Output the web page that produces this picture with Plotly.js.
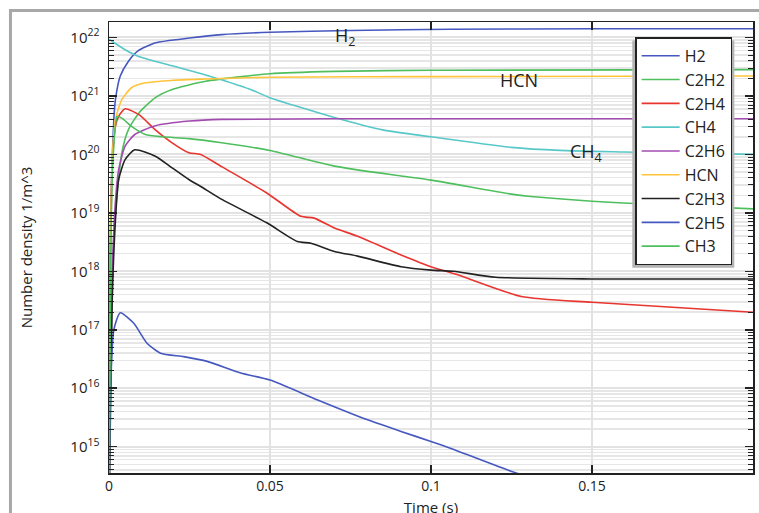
<!DOCTYPE html>
<html>
<head>
<meta charset="utf-8">
<script src="https://cdn.plot.ly/plotly-3.0.1.min.js"></script>
<style>
html,body{margin:0;padding:0;overflow:hidden;background:#fff;}
#chart{width:759px;height:530px;}
</style>
</head>
<body>
<div id="chart"></div>
<script>
// ---- data (time in s, number density in 1/m^3) ----
const tH2   = [0, 0.0004, 0.0008, 0.0015, 0.002, 0.0035, 0.006, 0.009, 0.0145, 0.025, 0.035, 0.05, 0.075, 0.106, 0.15, 0.2];
const H2    = [1e14, 3.16e18, 3.98e19, 3.98e20, 8.71e20, 2.19e21, 3.89e21, 5.89e21, 8.13e21, 9.77e21, 1.12e22, 1.23e22, 1.32e22, 1.38e22, 1.41e22, 1.41e22];

const tC2H2 = [0, 0.0008, 0.002, 0.004, 0.006, 0.0093, 0.0144, 0.0196, 0.03, 0.05, 0.07, 0.1, 0.2];
const C2H2  = [1e14, 3.16e17, 1e19, 1.07e20, 2.63e20, 5.13e20, 9.33e20, 1.29e21, 1.78e21, 2.40e21, 2.63e21, 2.75e21, 2.82e21];

const tC2H4 = [0, 0.0005, 0.001, 0.002, 0.003, 0.005, 0.0093, 0.0144, 0.0196, 0.0248, 0.0285, 0.035, 0.049, 0.0596, 0.0637, 0.07, 0.0772, 0.0907, 0.1, 0.1083, 0.128, 0.15, 0.2];
const C2H4  = [1e14, 2.0e18, 6.31e19, 3.02e20, 4.47e20, 6.03e20, 4.79e20, 2.63e20, 1.58e20, 1.07e20, 1.0e20, 6.17e19, 2.19e19, 8.71e18, 8.13e18, 5.50e18, 3.98e18, 1.91e18, 1.20e18, 8.71e17, 3.72e17, 2.95e17, 2.0e17];

const tCH4  = [0, 0.005, 0.009, 0.02, 0.03, 0.044, 0.05, 0.07, 0.085, 0.1, 0.125, 0.14, 0.16, 0.2];
const CH4   = [9.33e21, 6.17e21, 4.79e21, 3.24e21, 2.29e21, 1.29e21, 9.33e20, 4.27e20, 2.63e20, 2.0e20, 1.32e20, 1.17e20, 1.10e20, 1.0e20];

const tC2H6 = [0, 0.0004, 0.001, 0.002, 0.003, 0.005, 0.008, 0.0144, 0.025, 0.035, 0.1, 0.2];
const C2H6  = [1e14, 5.01e16, 1e18, 1.58e19, 5.50e19, 1.38e20, 2.19e20, 3.09e20, 3.72e20, 3.98e20, 4.07e20, 4.07e20];

const tHCN  = [0, 0.0005, 0.001, 0.002, 0.004, 0.007, 0.011, 0.02, 0.03, 0.05, 0.1, 0.2];
const HCN   = [1e14, 3.16e18, 7.94e19, 3.98e20, 8.71e20, 1.38e21, 1.66e21, 1.86e21, 1.95e21, 2.09e21, 2.14e21, 2.19e21];

const tC2H3 = [0, 0.001, 0.002, 0.003, 0.005, 0.008, 0.0144, 0.0196, 0.0248, 0.0285, 0.035, 0.049, 0.0585, 0.0627, 0.07, 0.0772, 0.0907, 0.1, 0.107, 0.12, 0.15, 0.2];
const C2H3  = [1e14, 3.16e17, 7.59e18, 3.72e19, 8.13e19, 1.20e20, 9.33e19, 5.89e19, 3.72e19, 2.82e19, 1.70e19, 6.76e18, 3.24e18, 3.02e18, 2.19e18, 1.82e18, 1.20e18, 1.05e18, 1.0e18, 7.94e17, 7.41e17, 7.41e17];

const tC2H5 = [0, 0.0005, 0.0015, 0.0035, 0.0077, 0.0118, 0.016, 0.0232, 0.0305, 0.0409, 0.05, 0.0648, 0.0803, 0.0907, 0.1, 0.1062, 0.126, 0.15, 0.2];
const C2H5  = [1e14, 1e16, 1e17, 1.95e17, 1.29e17, 5.89e16, 3.98e16, 3.47e16, 2.88e16, 1.82e16, 1.38e16, 6.31e15, 2.88e15, 1.82e15, 1.23e15, 9.33e14, 3.63e14, 1.58e14, 3.98e13];

const tCH3  = [0, 0.0005, 0.001, 0.002, 0.0025, 0.004, 0.007, 0.0113, 0.0165, 0.0248, 0.035, 0.05, 0.07, 0.0907, 0.1, 0.125, 0.131, 0.15, 0.163, 0.2];
const CH3   = [1e14, 1e18, 3.98e19, 3.16e20, 4.47e20, 4.17e20, 3.02e20, 2.19e20, 2.0e20, 1.86e20, 1.58e20, 1.17e20, 6.31e19, 4.27e19, 3.63e19, 2.09e19, 1.91e19, 1.58e19, 1.45e19, 1.17e19];

const speciesNames = ['H2', 'C2H2', 'C2H4', 'CH4', 'C2H6', 'HCN', 'C2H3', 'C2H5', 'CH3'];
const speciesT = [tH2, tC2H2, tC2H4, tCH4, tC2H6, tHCN, tC2H3, tC2H5, tCH3];
const speciesY = [H2, C2H2, C2H4, CH4, C2H6, HCN, C2H3, C2H5, CH3];
const speciesColors = ['#4658bf', '#4fbf5e', '#e8352f', '#58c7c7', '#a24cb0', '#ffc43a', '#222222', '#4658bf', '#4fbf5e'];

const xTickVals = [0, 0.05, 0.1, 0.15];
const xTickText = ['0', '0.05', '0.1', '0.15'];
const yTickVals = [1e15, 1e16, 1e17, 1e18, 1e19, 1e20, 1e21, 1e22];
const yTickText = ['10<sup>15</sup>', '10<sup>16</sup>', '10<sup>17</sup>', '10<sup>18</sup>', '10<sup>19</sup>', '10<sup>20</sup>', '10<sup>21</sup>', '10<sup>22</sup>'];
const yMinorVals = [];
for (let e = 14; e <= 22; e++) for (let m = 2; m <= 9; m++) yMinorVals.push(m * Math.pow(10, e));

const traces = speciesNames.map((n, i) => ({
  type: 'scatter', mode: 'lines', name: n,
  x: speciesT[i], y: speciesY[i],
  line: {color: speciesColors[i], width: 1.6, shape: 'spline', smoothing: 0.6},
  hoverinfo: 'skip'
}));

const FONT = 'Open Sans, Noto Sans, sans-serif';
const layout = {
  width: 759, height: 530,
  margin: {l: 109, r: 6, t: 22, b: 57},
  paper_bgcolor: '#ffffff', plot_bgcolor: '#ffffff',
  font: {family: FONT, size: 14, color: '#222'},
  showlegend: true,
  legend: {
    x: 0.817, y: 0.966, xanchor: 'left', yanchor: 'top',
    bgcolor: '#ffffff', bordercolor: '#222', borderwidth: 1.5,
    font: {family: FONT, size: 16, color: '#222'},
    itemwidth: 38, entrywidth: 57, entrywidthmode: 'pixels'
  },
  xaxis: {
    range: [0, 0.2], tickmode: 'array', tickvals: xTickVals, ticktext: xTickText,
    ticks: 'inside', ticklen: 8, tickwidth: 1.5, tickcolor: '#222',
    showline: true, linecolor: '#222', linewidth: 1.5, mirror: 'ticks',
    showgrid: true, gridcolor: '#e2e2e2', gridwidth: 2,
    zeroline: false,
    tickfont: {size: 14},
    title: {text: 'Time (s)', font: {size: 15}, standoff: 8},
    automargin: false
  },
  yaxis: {
    type: 'log', range: [14.55, 22.265],
    tickmode: 'array', tickvals: yTickVals, ticktext: yTickText,
    ticks: 'inside', ticklen: 8, tickwidth: 1.5, tickcolor: '#222',
    showline: true, linecolor: '#222', linewidth: 1.5, mirror: 'ticks',
    showgrid: true, gridcolor: '#e2e2e2', gridwidth: 2,
    minor: {tickmode: 'array', tickvals: yMinorVals, ticks: 'inside', ticklen: 5, tickcolor: '#222', tickwidth: 1,
            showgrid: true, gridcolor: '#e6e6e6', gridwidth: 1.5},
    zeroline: false,
    tickfont: {size: 15},
    ticklabelstandoff: 5,
    title: {text: 'Number density 1/m^3', font: {size: 15}, standoff: 34},
    automargin: false
  },
  annotations: [
    {xref: 'x', yref: 'y', x: 0.0696, y: 22.01, text: 'H<sub>2</sub>', showarrow: false, xanchor: 'left', yanchor: 'middle', font: {size: 18, color: '#222'}},
    {xref: 'x', yref: 'y', x: 0.1208, y: 21.28, text: 'HCN', showarrow: false, xanchor: 'left', yanchor: 'middle', font: {size: 18, color: '#222'}},
    {xref: 'x', yref: 'y', x: 0.1425, y: 20.04, text: 'CH<sub>4</sub>', showarrow: false, xanchor: 'left', yanchor: 'middle', font: {size: 18, color: '#222'}}
  ],
  shapes: [
    // outer grey frame of the figure
    {type: 'rect', xref: 'paper', yref: 'paper', x0: -0.1530, x1: 1.3, y0: 1.0255, y1: -0.3,
     line: {color: '#a8a8a8', width: 3}, fillcolor: 'rgba(0,0,0,0)', layer: 'below'},
    // legend drop shadow
    {type: 'rect', xref: 'paper', yref: 'paper', x0: 0.8126, x1: 0.971, y0: 0.455, y1: 0.959,
     line: {width: 0}, fillcolor: '#b4b4b4', layer: 'above'}
  ]
};

Plotly.newPlot('chart', traces, layout, {displayModeBar: false, staticPlot: true});
</script>
</body>
</html>
